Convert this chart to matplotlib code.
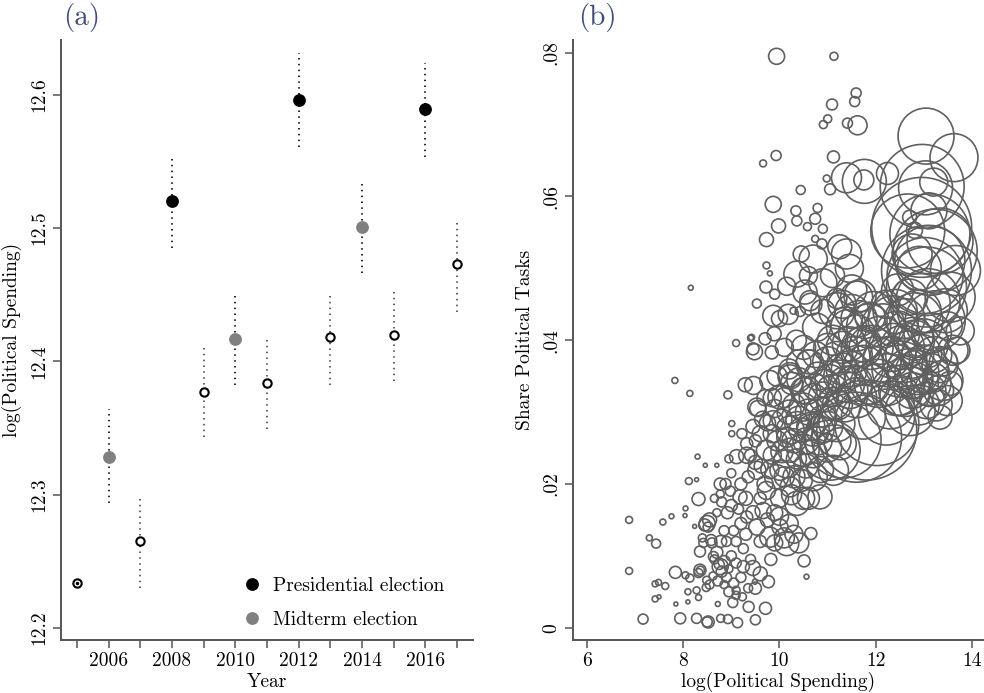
import matplotlib
matplotlib.use("Agg")
import matplotlib.pyplot as plt
import numpy as np

plt.rcParams['font.family'] = ['cmr10', 'DejaVu Serif']
plt.rcParams['axes.formatter.use_mathtext'] = True
plt.rcParams['mathtext.fontset'] = 'cm'

# ---- panel (a): year coefficients ----
years = [2005, 2006, 2007, 2008, 2009, 2010, 2011, 2012, 2013, 2014, 2015, 2016, 2017]
coef = [12.234, 12.328, 12.265, 12.520, 12.377, 12.417, 12.384, 12.596, 12.418, 12.501, 12.420, 12.589, 12.473]
ci_lo = [12.234, 12.294, 12.230, 12.485, 12.343, 12.382, 12.349, 12.561, 12.382, 12.466, 12.385, 12.553, 12.437]
ci_hi = [12.234, 12.364, 12.300, 12.555, 12.412, 12.451, 12.419, 12.631, 12.452, 12.535, 12.454, 12.624, 12.507]
election = ['none', 'mid', 'none', 'pres', 'none', 'mid', 'none', 'pres', 'none', 'mid', 'none', 'pres', 'none']
ytick_a = [12.2, 12.3, 12.4, 12.5, 12.6]

# ---- panel (b): bubbles (log spending, share political tasks, firm weight) ----
spend_top = [9.94, 11.13, 11.59, 11.56, 11.09, 11.00, 10.91, 11.41, 11.62, 9.93, 9.66, 11.12, 10.98, 11.05, 10.44, 9.87,
             10.34, 10.79, 10.36, 10.74, 9.98, 10.58, 10.90, 10.74, 10.88, 9.73, 12.70, 12.80, 11.39, 11.76, 11.75, 12.24]
share_top = [0.0795, 0.0795, 0.0744, 0.0732, 0.0728, 0.0708, 0.0700, 0.0702, 0.0699, 0.0657, 0.0646, 0.0655, 0.0625,
             0.0610, 0.0609, 0.0589, 0.0580, 0.0584, 0.0566, 0.0569, 0.0559, 0.0558, 0.0555, 0.0541, 0.0534, 0.0540,
             0.0571, 0.0553, 0.0626, 0.0621, 0.0623, 0.0632]
weight_top = [64, 16, 25, 25, 30, 16, 16, 25, 90, 25, 12, 36, 12, 30, 20, 64,
              25, 20, 25, 30, 49, 16, 20, 12, 25, 49, 49, 64, 225, 484, 100, 121]

spend_big = [13.04, 13.62, 12.96, 13.03, 12.95, 13.12, 12.66, 13.33, 13.05, 13.05, 12.92, 13.54, 13.60, 12.98, 13.39,
             13.48, 12.77, 12.36, 13.12, 13.23, 13.02, 13.08, 12.81, 13.23, 13.33, 12.60, 12.81, 13.12, 12.50, 13.75,
             13.44, 13.65, 13.68, 13.54, 13.33, 13.05, 13.11]
share_big = [0.0684, 0.0654, 0.0614, 0.0612, 0.0557, 0.0548, 0.0552, 0.0538, 0.0497, 0.0474, 0.0451, 0.0460, 0.0386,
             0.0395, 0.0344, 0.0316, 0.0404, 0.0427, 0.0511, 0.0524, 0.0490, 0.0455, 0.0427, 0.0427, 0.0366, 0.0372,
             0.0344, 0.0330, 0.0323, 0.0413, 0.0441, 0.0497, 0.0386, 0.0340, 0.0293, 0.0316, 0.0354]
weight_big = [784, 576, 1764, 729, 2500, 1600, 1369, 1089, 2025, 1600, 900, 625, 225, 625, 400,
              225, 400, 625, 1225, 1764, 1444, 1024, 784, 900, 324, 484, 324, 256, 400, 196,
              484, 625, 169, 144, 144, 324, 400]

spend_mid = [10.36, 10.70, 11.39, 10.53, 11.67, 11.19, 10.77, 11.39, 11.88, 11.74, 11.19, 10.63, 10.22, 12.29, 12.71,
             12.43, 11.88, 11.46, 10.91, 10.49, 10.22, 10.70, 11.19, 11.74, 12.22, 12.71, 10.49, 10.15, 9.94, 10.70,
             11.81, 11.60, 12.02, 11.32, 11.05, 11.19, 11.60, 10.63, 10.43, 10.18, 11.12, 11.26, 10.84, 10.36, 9.87,
             10.01, 10.56, 11.12, 11.39, 9.80, 10.22]
share_mid = [0.0492, 0.0513, 0.0520, 0.0467, 0.0462, 0.0458, 0.0418, 0.0418, 0.0432, 0.0395, 0.0376, 0.0367, 0.0352,
             0.0376, 0.0349, 0.0330, 0.0339, 0.0330, 0.0321, 0.0307, 0.0275, 0.0275, 0.0284, 0.0293, 0.0293, 0.0302,
             0.0247, 0.0228, 0.0210, 0.0210, 0.0275, 0.0265, 0.0284, 0.0261, 0.0247, 0.0441, 0.0460, 0.0455, 0.0440,
             0.0436, 0.0219, 0.0256, 0.0275, 0.0284, 0.0288, 0.0321, 0.0330, 0.0312, 0.0339, 0.0344, 0.0349]
weight_mid = [169, 196, 225, 144, 256, 100, 196, 400, 225, 324, 256, 196, 144, 400, 484,
              625, 400, 324, 225, 196, 196, 256, 324, 484, 784, 625, 256, 196, 144, 196,
              2500, 2025, 1764, 1444, 900, 324, 256, 100, 25, 100, 225, 256, 196, 144, 100,
              144, 196, 256, 324, 100, 144]

spend_core = [10.6, 10.4, 10.2, 10.1, 10.35, 10.65, 10.0, 10.15, 10.45, 10.6, 10.9, 11.25, 11.0, 10.9, 11.3, 11.5,
              11.45, 11.1, 10.3, 10.45, 10.6, 10.75, 10.9, 11.0, 10.85, 11.05, 11.2, 11.3, 11.45, 11.55, 11.6, 11.75,
              11.85, 12.0, 12.1, 12.2, 12.35, 12.5, 12.45, 12.6, 12.7, 12.85, 12.9, 13.1, 13.2, 13.25]
share_core = [0.037, 0.0345, 0.036, 0.039, 0.040, 0.045, 0.043, 0.0475, 0.052, 0.049, 0.048, 0.053, 0.039, 0.044,
              0.045, 0.047, 0.050, 0.049, 0.031, 0.0275, 0.030, 0.0335, 0.029, 0.025, 0.022, 0.0345, 0.031, 0.036,
              0.0395, 0.034, 0.041, 0.0365, 0.042, 0.037, 0.040, 0.0345, 0.039, 0.036, 0.041, 0.033, 0.038, 0.0355,
              0.031, 0.034, 0.038, 0.031]
weight_core = [144, 144, 100, 81, 100, 121, 64, 81, 64, 81, 196, 144, 196, 144, 196, 225,
               196, 144, 121, 144, 169, 169, 196, 196, 169, 225, 225, 256, 289, 324, 324, 400,
               484, 625, 576, 676, 576, 784, 484, 676, 576, 484, 400, 484, 324, 256]

spend_dense = [9.85, 9.95, 10.05, 10.1, 10.2, 10.25, 10.3, 10.4, 10.4, 10.5, 10.5, 10.55, 10.65, 10.7, 10.75, 10.8,
               10.8, 10.85, 10.95, 11.0, 11.0, 11.1, 11.1, 11.15, 11.25, 11.3, 11.35, 11.4, 11.45, 11.5, 11.55,
               11.6, 11.65, 11.7, 11.8, 11.9, 11.95, 12.05, 12.15, 12.25, 12.3, 12.4, 12.55, 12.6, 12.65, 12.75,
               12.8, 12.9, 12.95, 13.0, 13.15, 13.3, 13.4, 13.5,
               10.0, 10.1, 10.3, 10.5, 9.9, 9.7, 9.5, 9.6, 9.85, 9.75, 9.3, 9.2, 9.45, 9.1, 8.9, 9.0, 9.25, 9.5,
               12.2, 12.45, 12.7, 12.9, 12.75, 13.1, 13.2]
share_dense = [0.024, 0.026, 0.0245, 0.032, 0.030, 0.034, 0.026, 0.029, 0.037, 0.033, 0.039, 0.026, 0.028, 0.032,
               0.038, 0.035, 0.026, 0.030, 0.034, 0.037, 0.028, 0.040, 0.033, 0.026, 0.035, 0.039, 0.031, 0.042,
               0.036, 0.044, 0.038, 0.032, 0.043, 0.039, 0.034, 0.039, 0.044, 0.034, 0.042, 0.037, 0.031, 0.044,
               0.039, 0.043, 0.036, 0.033, 0.040, 0.044, 0.038, 0.036, 0.041, 0.033, 0.037, 0.042,
               0.018, 0.021, 0.021, 0.018, 0.016, 0.020, 0.023, 0.027, 0.032, 0.0285, 0.013, 0.020, 0.016, 0.009,
               0.012, 0.017, 0.0085, 0.0055,
               0.045, 0.047, 0.046, 0.050, 0.052, 0.058, 0.062]
weight_dense = [81, 100, 121, 100, 144, 121, 144, 169, 144, 169, 144, 169, 196, 196, 169, 196,
                196, 225, 196, 225, 225, 225, 256, 256, 256, 256, 289, 256, 324, 289, 324,
                400, 324, 400, 484, 484, 400, 576, 484, 625, 576, 484, 484, 400, 400, 324,
                400, 484, 400, 576, 400, 225, 196, 196,
                81, 100, 121, 121, 64, 64, 49, 64, 81, 64, 36, 36, 49, 25, 25, 36, 36, 36,
                196, 256, 324, 484, 400, 324, 196]

spend_band = [8.35, 8.45, 8.50, 8.52, 8.55, 8.40, 8.60, 8.65, 8.70, 8.75, 8.80, 8.85, 8.72, 8.62, 8.55, 8.90, 8.95,
              8.78, 8.85, 8.70, 8.80, 8.92, 8.98, 8.88, 9.00, 8.95, 8.65, 8.58, 8.42, 8.36, 8.48, 8.95, 8.85, 9.05,
              9.29, 9.46, 9.01, 9.01, 9.22, 9.32, 9.11, 8.77, 8.77, 8.63, 8.77, 8.35, 9.80, 10.15, 10.01, 9.53,
              9.66, 9.32, 9.18, 9.73, 10.22, 10.36, 10.84, 10.01, 9.53, 9.32, 9.73, 10.22, 10.70, 9.53]
share_band = [0.0106, 0.0143, 0.0145, 0.0140, 0.0150, 0.0125, 0.0118, 0.0095, 0.0105, 0.0088, 0.0078, 0.0092,
              0.0065, 0.0072, 0.0060, 0.0070, 0.0082, 0.0120, 0.0135, 0.0160, 0.0175, 0.0160, 0.0190, 0.0200,
              0.0215, 0.0235, 0.0180, 0.0122, 0.0118, 0.0080, 0.0056, 0.0050, 0.0060, 0.0062,
              0.0338, 0.0337, 0.0284, 0.0270, 0.0270, 0.0256, 0.0238, 0.0200, 0.0186, 0.0099, 0.0085, 0.0080,
              0.0126, 0.0117, 0.0140, 0.0140, 0.0163, 0.0154, 0.0182, 0.0191, 0.0196, 0.0173, 0.0182, 0.0219,
              0.0219, 0.0240, 0.0247, 0.0247, 0.0242, 0.0307]
weight_band = [30, 36, 64, 25, 49, 16, 25, 20, 36, 25, 30, 36, 25, 16, 20, 25, 16,
               36, 25, 16, 25, 36, 25, 30, 20, 16, 16, 30, 20, 16, 16, 25, 16, 25,
               49, 81, 9, 9, 25, 36, 49, 36, 16, 25, 64, 36, 100, 144, 64, 64,
               64, 36, 49, 81, 100, 144, 144, 100, 81, 64, 100, 144, 196, 81]

spend_fill = [9.1, 9.2, 9.25, 9.3, 9.35, 9.4, 9.45, 9.5, 9.55, 9.6, 9.62, 9.65, 9.7, 9.75, 9.8, 9.85, 9.9, 9.95,
              9.6, 9.4, 9.15, 9.05, 9.0, 9.2, 9.1, 9.35, 9.6, 9.82, 9.9, 10.0, 10.1, 10.2, 10.3, 10.4, 10.25,
              10.45, 10.6, 10.55, 10.35, 10.15, 10.05]
share_fill = [0.012, 0.0145, 0.011, 0.018, 0.021, 0.024, 0.028, 0.026, 0.0305, 0.018, 0.0225, 0.029, 0.032, 0.015,
              0.022, 0.027, 0.0305, 0.035, 0.012, 0.0095, 0.0165, 0.0135, 0.010, 0.007, 0.0045, 0.0055, 0.0075,
              0.0095, 0.0118, 0.0155, 0.0125, 0.0145, 0.013, 0.0118, 0.0185, 0.0205, 0.018, 0.0225, 0.0235,
              0.0265, 0.029]
weight_fill = [25, 36, 25, 49, 36, 36, 49, 36, 64, 36, 49, 64, 64, 49, 81, 81, 81, 100,
               36, 25, 25, 25, 25, 25, 16, 20, 49, 36, 64, 81, 100, 81, 81, 100, 100,
               121, 121, 144, 100, 100, 100]

spend_sparse = [6.88, 6.88, 7.30, 7.44, 7.58, 7.76, 7.17, 7.42, 7.49, 7.63, 7.42, 7.50, 7.85, 8.10, 7.94, 8.28, 8.52,
                8.50, 8.78, 8.93, 9.13, 9.50, 9.71, 9.36, 9.03, 8.72, 8.32, 8.10, 7.84, 8.05, 8.14, 8.28, 8.32, 8.49,
                9.77, 9.49, 9.45, 9.10, 9.23, 10.56, 10.51, 10.65, 8.30, 8.46, 8.70, 8.12, 8.28, 8.32, 8.05, 8.04,
                8.24, 8.16, 7.83, 8.14, 8.93, 9.73, 9.80, 9.72, 9.90, 9.53, 9.87, 10.29, 9.42, 9.70, 9.48, 9.45,
                9.84, 9.89, 9.10, 9.40]
share_sparse = [0.0150, 0.0079, 0.0125, 0.0117, 0.0147, 0.0155, 0.0012, 0.0061, 0.0063, 0.0058, 0.0040, 0.0043,
                0.0033, 0.0036, 0.0013, 0.0013, 0.0008, 0.0008, 0.0013, 0.0012, 0.0007, 0.0011, 0.0027, 0.0029,
                0.0035, 0.0033, 0.0042, 0.0050, 0.0077, 0.0073, 0.0069, 0.0052, 0.0076, 0.0066, 0.0064, 0.0064,
                0.0083, 0.0052, 0.0043, 0.0071, 0.0093, 0.0131, 0.0238, 0.0226, 0.0226, 0.0204, 0.0206, 0.0179,
                0.0166, 0.0156, 0.0141, 0.0473, 0.0344, 0.0326, 0.0324, 0.0504, 0.0493, 0.0474, 0.0464, 0.0451,
                0.0434, 0.0441, 0.0404, 0.0402, 0.0384, 0.0388, 0.0383, 0.0409, 0.0396, 0.0403]
weight_sparse = [12, 12, 9, 20, 9, 6, 25, 9, 9, 12, 9, 4, 4, 4, 30, 25, 36,
                 25, 16, 20, 25, 25, 36, 30, 25, 6, 9, 9, 36, 12, 16, 12, 20, 16,
                 36, 6, 56, 16, 16, 6, 36, 36, 6, 4, 4, 12, 4, 42, 6, 4,
                 4, 6, 9, 9, 16, 12, 6, 36, 25, 20, 110, 12, 9, 36, 64, 36,
                 42, 49, 12, 9]

spend = np.concatenate([spend_sparse, spend_band, spend_fill, spend_dense, spend_mid, spend_core, spend_top, spend_big])
share = np.concatenate([share_sparse, share_band, share_fill, share_dense, share_mid, share_core, share_top, share_big])
weight = np.concatenate([weight_sparse, weight_band, weight_fill, weight_dense, weight_mid, weight_core, weight_top,
                         weight_big])

spine_col = '#555555'
title_col = '#3f4d7a'

fig = plt.figure(figsize=(9.84, 6.93), dpi=100)

# ---------------- panel (a) ----------------
ax1 = fig.add_axes([61/984, 53/693, 412/984, 600/693])
for yr, c, lo, hi, e in zip(years, coef, ci_lo, ci_hi, election):
    lc = 'black' if e != 'none' else '#444444'
    if hi > lo:
        ax1.plot([yr, yr], [lo, hi], color=lc, lw=1.2, linestyle=(0, (0.9, 2.6)), zorder=1)
    else:
        ax1.plot(yr, c, 'o', color='black', ms=1.5, zorder=4)

yrs = np.array(years)
cf = np.array(coef)
el = np.array(election)
m = el == 'none'
ax1.plot(yrs[m], cf[m], 'o', mfc='white', mec='black', ms=6, mew=1.5, ls='none', zorder=3)
m = el == 'pres'
ax1.plot(yrs[m], cf[m], 'o', color='black', ms=8.2, ls='none', zorder=3, label='Presidential election')
m = el == 'mid'
ax1.plot(yrs[m], cf[m], 'o', color='#808080', ms=8.2, ls='none', zorder=3, label='Midterm election')

ax1.set_xlim(2004.5, 2017.5)
ax1.set_ylim(12.191, 12.641)
ax1.set_xticks(years)
ax1.set_xticklabels([str(y) if y % 2 == 0 else '' for y in years])
ax1.set_yticks(ytick_a)
ax1.set_yticklabels(['%.1f' % v for v in ytick_a], rotation=90, va='center')
ax1.set_xlabel('Year', fontsize=14, va='center')
ax1.xaxis.set_label_coords(0.5, -0.07)
ax1.set_ylabel('log(Political Spending)', fontsize=14, va='center')
ax1.yaxis.set_label_coords(-0.119, 0.5)
leg = ax1.legend(loc='lower left', bbox_to_anchor=(0.398, 0.006), frameon=False, fontsize=14,
                 handletextpad=0.05, labelspacing=0.8, borderaxespad=0)

# ---------------- panel (b) ----------------
ax2 = fig.add_axes([573/984, 53/693, 410/984, 600/693])
ax2.scatter(spend, share, s=weight * 2.07, facecolors='none', edgecolors='#606060', linewidths=1.2)
ax2.set_xlim(5.716, 14.222)
ax2.set_ylim(-0.00171, 0.08177)
ax2.set_xticks([6, 8, 10, 12, 14])
ax2.set_xticklabels(['6', '8', '10', '12', '14'])
ytick_b = [0, 0.02, 0.04, 0.06, 0.08]
ax2.set_yticks(ytick_b)
ax2.set_yticklabels(['0', '.02', '.04', '.06', '.08'], rotation=90, va='center')
ax2.set_xlabel('log(Political Spending)', fontsize=14, va='center')
ax2.xaxis.set_label_coords(0.5, -0.07)
ax2.set_ylabel('Share Political Tasks', fontsize=14, va='center')
ax2.yaxis.set_label_coords(-0.117, 0.5)

for ax in (ax1, ax2):
    for s in ('top', 'right'):
        ax.spines[s].set_visible(False)
    for s in ('left', 'bottom'):
        ax.spines[s].set_color(spine_col)
        ax.spines[s].set_linewidth(1.4)
    ax.tick_params(length=6, width=1.1, color=spine_col, labelsize=14, pad=3)

fig.text(82/984, 1 - 18/693, '(a)', fontsize=21, color=title_col, ha='center', va='center')
fig.text(597/984, 1 - 18/693, '(b)', fontsize=21, color=title_col, ha='center', va='center')

fig.savefig('out.png', dpi=100)
